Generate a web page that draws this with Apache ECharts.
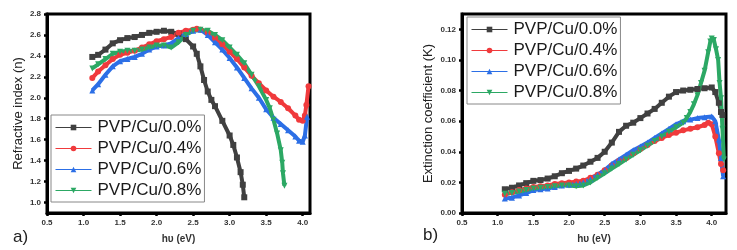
<!DOCTYPE html>
<html>
<head>
<meta charset="utf-8">
<script src="https://cdn.jsdelivr.net/npm/echarts@6/dist/echarts.min.js"></script>
<style>
  html, body { margin: 0; padding: 0; background: #fff; }
  #chart { width: 737px; height: 250px; }
</style>
</head>
<body>
<div id="chart"></div>
<script>
// series names
var names = ['PVP/Cu/0.0%', 'PVP/Cu/0.4%', 'PVP/Cu/0.6%', 'PVP/Cu/0.8%'];

// (a) refractive index n vs hv (eV)
var nCu00 = [[1.12,2.39],[1.2,2.41],[1.3,2.46],[1.4,2.52],[1.5,2.55],[1.6,2.57],[1.7,2.58],[1.8,2.60],[1.9,2.62],[2.0,2.63],[2.1,2.64],[2.2,2.63],[2.3,2.61],[2.4,2.56],[2.5,2.49],[2.55,2.42],[2.6,2.30],[2.65,2.17],[2.7,2.06],[2.75,1.98],[2.8,1.92],[2.9,1.78],[3.0,1.64],[3.05,1.55],[3.1,1.43],[3.15,1.29],[3.18,1.17],[3.2,1.05]];
var nCu04 = [[1.12,2.19],[1.2,2.25],[1.3,2.31],[1.4,2.37],[1.5,2.41],[1.6,2.43],[1.7,2.45],[1.8,2.48],[1.9,2.51],[2.0,2.54],[2.1,2.56],[2.2,2.58],[2.3,2.62],[2.4,2.64],[2.5,2.65],[2.55,2.66],[2.6,2.65],[2.7,2.62],[2.8,2.57],[2.9,2.51],[3.0,2.44],[3.1,2.37],[3.2,2.29],[3.3,2.21],[3.4,2.14],[3.5,2.07],[3.6,2.01],[3.7,1.96],[3.8,1.90],[3.9,1.83],[3.95,1.79],[4.0,1.78],[4.03,1.83],[4.05,1.93],[4.08,2.11]];
var nCu06 = [[1.12,2.07],[1.2,2.13],[1.3,2.22],[1.4,2.30],[1.5,2.35],[1.6,2.37],[1.7,2.39],[1.8,2.42],[1.9,2.46],[2.0,2.49],[2.1,2.50],[2.2,2.52],[2.3,2.57],[2.4,2.61],[2.5,2.64],[2.6,2.65],[2.7,2.60],[2.8,2.53],[2.9,2.46],[3.0,2.38],[3.1,2.29],[3.2,2.19],[3.3,2.09],[3.4,2.00],[3.5,1.89],[3.6,1.81],[3.7,1.75],[3.8,1.69],[3.9,1.63],[3.95,1.59],[4.0,1.58],[4.03,1.64],[4.06,1.82]];
var nCu08 = [[1.12,2.28],[1.2,2.32],[1.3,2.37],[1.4,2.42],[1.5,2.44],[1.6,2.45],[1.7,2.45],[1.8,2.46],[1.9,2.48],[2.0,2.50],[2.1,2.50],[2.2,2.48],[2.3,2.53],[2.4,2.60],[2.5,2.64],[2.6,2.65],[2.7,2.64],[2.8,2.60],[2.9,2.55],[3.0,2.48],[3.1,2.41],[3.2,2.33],[3.3,2.22],[3.4,2.11],[3.5,1.98],[3.55,1.90],[3.6,1.79],[3.65,1.66],[3.7,1.50],[3.72,1.38],[3.73,1.28],[3.75,1.16]];

// (b) extinction coefficient K vs hv (eV)
var kCu00 = [[1.1,0.0155],[1.2,0.0165],[1.3,0.018],[1.4,0.0195],[1.5,0.021],[1.6,0.0215],[1.7,0.0225],[1.8,0.024],[1.9,0.026],[2.0,0.0275],[2.1,0.029],[2.2,0.031],[2.3,0.0335],[2.4,0.036],[2.5,0.040],[2.6,0.046],[2.7,0.053],[2.8,0.057],[2.9,0.059],[3.0,0.062],[3.1,0.065],[3.2,0.068],[3.3,0.072],[3.4,0.076],[3.5,0.079],[3.6,0.080],[3.7,0.0805],[3.8,0.081],[3.9,0.0815],[4.0,0.082],[4.05,0.079],[4.1,0.072],[4.13,0.066],[4.15,0.064]];
var kCu04 = [[1.1,0.012],[1.2,0.0135],[1.3,0.015],[1.4,0.016],[1.5,0.017],[1.6,0.0175],[1.7,0.018],[1.8,0.019],[1.9,0.0195],[2.0,0.020],[2.1,0.0205],[2.2,0.021],[2.3,0.023],[2.4,0.025],[2.5,0.028],[2.6,0.031],[2.7,0.034],[2.8,0.036],[2.9,0.039],[3.0,0.042],[3.1,0.0445],[3.2,0.047],[3.3,0.049],[3.4,0.051],[3.5,0.0525],[3.6,0.054],[3.7,0.055],[3.8,0.056],[3.9,0.0575],[3.95,0.059],[4.0,0.058],[4.05,0.050],[4.1,0.039],[4.13,0.032],[4.16,0.028]];
var kCu06 = [[1.1,0.0095],[1.2,0.010],[1.3,0.0115],[1.4,0.013],[1.5,0.015],[1.6,0.0155],[1.7,0.016],[1.8,0.017],[1.9,0.018],[2.0,0.0185],[2.1,0.019],[2.2,0.020],[2.3,0.022],[2.4,0.025],[2.5,0.028],[2.6,0.032],[2.7,0.035],[2.8,0.038],[2.9,0.041],[3.0,0.0435],[3.1,0.046],[3.2,0.049],[3.3,0.052],[3.4,0.055],[3.5,0.058],[3.6,0.060],[3.7,0.061],[3.8,0.062],[3.9,0.0625],[4.0,0.063],[4.05,0.060],[4.1,0.048],[4.13,0.036],[4.16,0.024]];
var kCu08 = [[1.1,0.0125],[1.2,0.013],[1.3,0.014],[1.4,0.015],[1.5,0.016],[1.6,0.0165],[1.7,0.017],[1.8,0.0175],[1.9,0.018],[2.0,0.018],[2.1,0.0175],[2.2,0.018],[2.3,0.020],[2.4,0.023],[2.5,0.026],[2.6,0.029],[2.7,0.032],[2.8,0.035],[2.9,0.038],[3.0,0.041],[3.1,0.044],[3.2,0.047],[3.3,0.050],[3.4,0.053],[3.5,0.056],[3.6,0.059],[3.65,0.062],[3.7,0.066],[3.75,0.071],[3.8,0.077],[3.85,0.085],[3.9,0.093],[3.95,0.105],[3.98,0.112],[4.0,0.114],[4.03,0.113],[4.06,0.107],[4.09,0.100],[4.11,0.085],[4.13,0.075],[4.15,0.055],[4.17,0.035]];

// tick labels
var xTicksA = [0.5, 1.0, 1.5, 2.0, 2.5, 3.0, 3.5, 4.0];
var yTicksA = [1.0, 1.2, 1.4, 1.6, 1.8, 2.0, 2.2, 2.4, 2.6, 2.8];
var xTicksB = [0.5, 1.0, 1.5, 2.0, 2.5, 3.0, 3.5, 4.0];
var yTicksB = [0.00, 0.02, 0.04, 0.06, 0.08, 0.10, 0.12];

var colors = ['#404040', '#f03a3c', '#2c6fe6', '#2ca864'];
var symbols = ['rect', 'circle', 'triangle', 'triangle'];
var rotates = [0, 0, 0, 180];

var chart = echarts.init(document.getElementById('chart'), null, {renderer: 'canvas'});

var labelStyle = {fontFamily: 'Liberation Sans', fontWeight: 'bold', fontSize: 8, color: '#333'};

function xAxis(idx, max, ticks) {
    return {
        type: 'value', gridIndex: idx, min: 0.5, max: max,
        name: 'h\u03c5 (eV)', nameLocation: 'middle', nameGap: 21,
        nameTextStyle: {fontFamily: 'Liberation Sans', fontWeight: 'bold', fontSize: 10, color: '#333'},
        axisLine: {lineStyle: {color: '#000', width: 3}},
        axisTick: {customValues: ticks, length: 3, lineStyle: {color: '#000', width: 2.5}},
        axisLabel: Object.assign({customValues: ticks, margin: 6, formatter: function (v) { return v.toFixed(1); }}, labelStyle),
        splitLine: {show: false}
    };
}

function yAxis(idx, min, max, ticks, name, gap, digits) {
    return {
        type: 'value', gridIndex: idx, min: min, max: max,
        name: name, nameLocation: 'middle', nameGap: gap,
        nameTextStyle: {fontFamily: 'Liberation Sans', fontSize: 13, color: '#222'},
        axisLine: {lineStyle: {color: '#000', width: 3}},
        axisTick: {customValues: ticks, length: 3, lineStyle: {color: '#000', width: 2.5}},
        axisLabel: Object.assign({customValues: ticks, margin: 6, formatter: function (v) { return v.toFixed(digits); }}, labelStyle),
        splitLine: {show: false}
    };
}

function makeSeries(data, i, axisIdx) {
    return {
        name: names[i], type: 'line', data: data,
        xAxisIndex: axisIdx, yAxisIndex: axisIdx,
        symbol: symbols[i], symbolRotate: rotates[i], symbolSize: 6,
        showAllSymbol: true, animation: false,
        lineStyle: {color: colors[i], width: 4},
        itemStyle: {color: colors[i]}
    };
}

function legend(left, top) {
    return {
        orient: 'vertical', left: left, top: top,
        data: names, itemWidth: 36, itemHeight: 7, itemGap: 4,
        padding: [4, 3, 3, 4],
        borderColor: '#888', borderWidth: 1, backgroundColor: '#fff',
        lineStyle: {width: 1},
        textStyle: {fontFamily: 'Liberation Sans', fontSize: 17, color: '#1a1a1a', padding: [0, 0, 0, 1]},
        selectedMode: false
    };
}

var seriesList = [];
[nCu00, nCu04, nCu06, nCu08].forEach(function (d, i) { seriesList.push(makeSeries(d, i, 0)); });
[kCu00, kCu04, kCu06, kCu08].forEach(function (d, i) { seriesList.push(makeSeries(d, i, 1)); });

chart.setOption({
    animation: false,
    grid: [
        {left: 47, top: 14, width: 263, height: 199, show: true, borderColor: '#000', borderWidth: 3},
        {left: 462, top: 14, width: 264, height: 199, show: true, borderColor: '#000', borderWidth: 3}
    ],
    xAxis: [xAxis(0, 4.1, xTicksA), xAxis(1, 4.2, xTicksB)],
    yAxis: [
        yAxis(0, 0.9, 2.8, yTicksA, 'Refractive index (n)', 22, 1),
        yAxis(1, 0, 0.13, yTicksB, 'Extinction coefficient (K)', 27, 2)
    ],
    legend: [legend(51, 115), legend(467, 17)],
    graphic: [
        {type: 'text', left: 13, top: 229, style: {text: 'a)', font: '17px "Liberation Sans"', fill: '#222'}},
        {type: 'text', left: 423, top: 227, style: {text: 'b)', font: '17px "Liberation Sans"', fill: '#222'}}
    ],
    series: seriesList
});
</script>
</body>
</html>
